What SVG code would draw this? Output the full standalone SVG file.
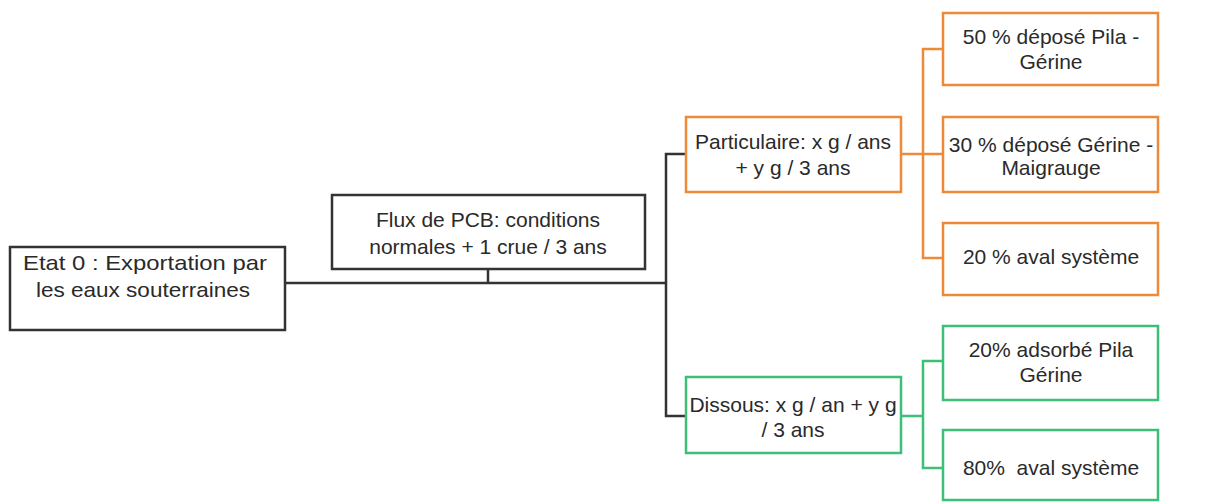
<svg xmlns="http://www.w3.org/2000/svg" width="1231" height="502" viewBox="0 0 1231 502">
<style>
.box{fill:#fff;stroke-width:2.5}
.k{stroke:#333}
.o{stroke:#EC8A3A}
.g{stroke:#3DBF78}
text{font-family:"Liberation Sans",Arial,sans-serif;font-size:21px;fill:#2a2a2a;text-anchor:middle;white-space:pre}
.ln{fill:none;stroke-width:2.5}
</style>
<rect width="1231" height="502" fill="#fff"/>
<g id="connectors">
<polyline class="ln k" points="285,283 667,283"/>
<polyline class="ln k" points="488,269 488,283"/>
<polyline class="ln k" points="686,154 666,154 666,416 686,416"/>
<polyline class="ln o" points="901,154 923,154"/>
<polyline class="ln o" points="943,49 923,49 923,258 943,258"/>
<polyline class="ln o" points="923,154 943,154"/>
<polyline class="ln g" points="901,416 923,416"/>
<polyline class="ln g" points="943,361 923,361 923,468 943,468"/>
</g>
<g id="n1"><rect class="box k" x="10" y="247" width="275" height="83"/><text x="145" y="270" textLength="244" lengthAdjust="spacingAndGlyphs">Etat 0 : Exportation par</text><text x="143" y="297" textLength="214" lengthAdjust="spacingAndGlyphs">les eaux souterraines</text></g>
<g id="n2"><rect class="box k" x="332" y="195" width="313" height="74"/><text x="488" y="227">Flux de PCB: conditions</text><text x="488" y="254">normales + 1 crue / 3 ans</text></g>
<g id="n3"><rect class="box o" x="686" y="117" width="215" height="75"/><text x="793" y="149">Particulaire: x g / ans</text><text x="793" y="175">+ y g / 3 ans</text></g>
<g id="n4"><rect class="box o" x="943" y="13" width="215" height="72"/><text x="1051" y="44">50 % déposé Pila -</text><text x="1051" y="69">Gérine</text></g>
<g id="n5"><rect class="box o" x="943" y="117" width="215" height="75"/><text x="1051" y="152">30 % déposé Gérine -</text><text x="1051" y="175">Maigrauge</text></g>
<g id="n6"><rect class="box o" x="943" y="223" width="215" height="72"/><text x="1051" y="264">20 % aval système</text></g>
<g id="n7"><rect class="box g" x="686" y="377" width="215" height="76"/><text x="793" y="412">Dissous: x g / an + y g</text><text x="793" y="437">/ 3 ans</text></g>
<g id="n8"><rect class="box g" x="943" y="326" width="215" height="74"/><text x="1051" y="357">20% adsorbé Pila</text><text x="1051" y="382">Gérine</text></g>
<g id="n9"><rect class="box g" x="943" y="430" width="215" height="70"/><text x="1051" y="475">80%  aval système</text></g>
</svg>
